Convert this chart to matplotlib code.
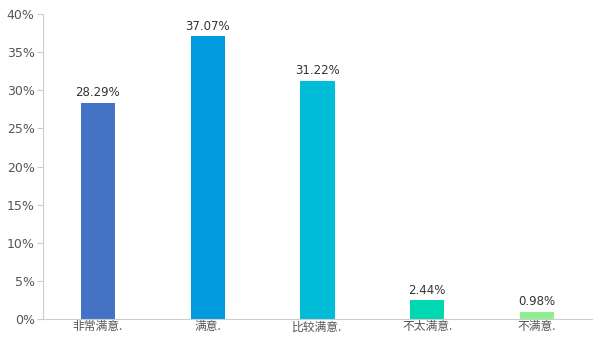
import matplotlib.pyplot as plt
from matplotlib.ticker import FuncFormatter

plt.rcParams['font.family'] = ['Noto Sans CJK SC', 'DejaVu Sans']

categories = ['非常满意.', '满意.', '比较满意.', '不太满意.', '不满意.']
values = [28.29, 37.07, 31.22, 2.44, 0.98]
colors = ['#4472C4', '#009ADE', '#00BCD6', '#00D8B2', '#90EE90']

fig = plt.figure(figsize=(6.05, 3.40), dpi=100)
ax = fig.add_axes([43 / 605, 21 / 340, 549 / 605, 305 / 340])

x = range(len(categories))
bars = ax.bar(x, values, width=0.31, color=colors)
for b, v in zip(bars, values):
    ax.text(b.get_x() + b.get_width() / 2, v + 0.5, '%.2f%%' % v,
            ha='center', va='bottom', fontsize=8.5, color='#333333',
            family='DejaVu Sans')

ax.set_xlim(-0.5, len(categories) - 0.5)
ax.set_ylim(0, 40)
ax.set_yticks(range(0, 41, 5))
ax.yaxis.set_major_formatter(FuncFormatter(lambda v, p: '%d%%' % v))
ax.set_xticks(list(x))
ax.set_xticklabels(categories, fontsize=8.5, color='#555555')
ax.tick_params(axis='x', length=0, pad=1)
ax.tick_params(axis='y', length=4, color='#cccccc', labelsize=9, labelcolor='#555555', pad=2)
for lbl in ax.get_yticklabels():
    lbl.set_family('DejaVu Sans')

for s in ['top', 'right']:
    ax.spines[s].set_visible(False)
for s in ['left', 'bottom']:
    ax.spines[s].set_color('#cccccc')

fig.savefig('out.png', dpi=100)
